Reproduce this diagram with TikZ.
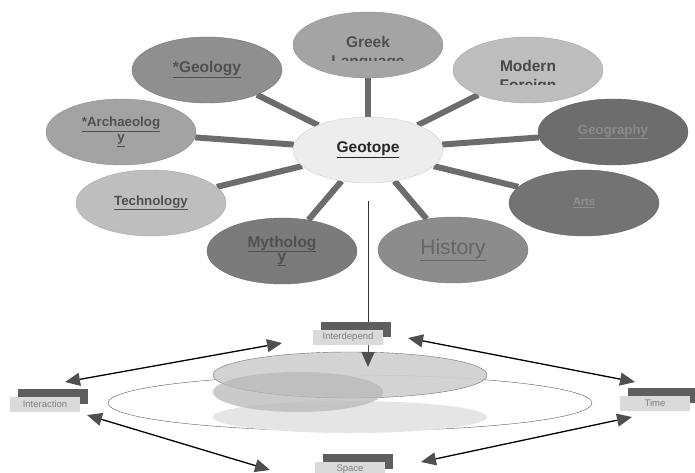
\documentclass[tikz,border=0pt]{standalone}
\usepackage{fontspec}
\setmainfont{Liberation Sans}
\usetikzlibrary{shapes.geometric,arrows.meta,shadows,backgrounds}

\definecolor{spokegray}{HTML}{6C6C6C}
\definecolor{cGeotope}{HTML}{EDEDED}
\definecolor{cGreek}{HTML}{A4A4A4}
\definecolor{cModern}{HTML}{BDBDBD}
\definecolor{cGeography}{HTML}{6D6D6D}
\definecolor{cArts}{HTML}{737373}
\definecolor{cHistory}{HTML}{8C8C8C}
\definecolor{cMythology}{HTML}{7B7B7B}
\definecolor{cTechnology}{HTML}{BEBEBE}
\definecolor{cArchaeology}{HTML}{A3A3A3}
\definecolor{cGeology}{HTML}{8F8F8F}
\definecolor{txtgray}{HTML}{505050}
\definecolor{tagbar}{HTML}{5E5E5E}
\definecolor{tagfill}{HTML}{DADADA}
\definecolor{arrowgray}{HTML}{505050}

\begin{document}
\begin{tikzpicture}[x=1pt, y=-1pt,
  bubble/.style={ellipse, minimum width=150pt, minimum height=66pt, inner sep=0pt,
    draw=#1!88!black, fill=#1, align=center, text=txtgray},
  big/.style={font=\bfseries\fontsize{15.5}{15}\selectfont},
  mid/.style={font=\bfseries\fontsize{13.3}{15}\selectfont},
  spoke/.style={line width=6pt, draw=spokegray},
  tag/.style={rectangle, minimum width=70pt, minimum height=15pt, inner sep=0pt,
    fill=tagfill, text=gray, font=\fontsize{9.5}{10}\selectfont,
    general shadow={fill=tagbar, shadow xshift=8pt, shadow yshift=8pt}},
  link/.style={{Triangle[length=15pt,width=13pt,color=arrowgray]}-{Triangle[length=15pt,width=13pt,color=arrowgray]},
    line width=1.3pt}]
  \useasboundingbox (0,0) rectangle (695,473);

  \node[bubble=cGeotope, big, text=black!85] (geotope) at (368,150) {\underline{Geotope}};
  \node[bubble=cGreek] (greek) at (368,45) {};
  \node[bubble=cModern] (modern) at (528,70) {};
  \node[bubble=cGeography, mid, text=cGeography!80!white] (geography) at (613,132) {\underline{Geography}};
  \node[bubble=cArts, font=\bfseries\fontsize{11}{12}\selectfont, text=cArts!80!white] (arts) at (584,203) {\underline{Arts}};
  \node[bubble=cHistory, font=\fontsize{21}{22}\selectfont, text=black!60] (history) at (453,250) {\underline{History}};
  \node[bubble=cMythology, big] (mythology) at (282,251) {\underline{Mytholog}\\[-1pt]\underline{y}};
  \node[bubble=cTechnology, mid] (technology) at (151,203) {\underline{Technology}};
  \node[bubble=cArchaeology, mid] (archaeology) at (121,132) {\underline{*Archaeolog}\\\underline{y}};
  \node[bubble=cGeology, big, draw=black!55] (geology) at (207,70) {\underline{*Geology}};

  \begin{scope}
    \clip (290,0) rectangle (450,61);
    \node[big, text=txtgray, align=center] (greektext) at (368,53) {Greek\\[4pt]Language};
  \end{scope}
  \begin{scope}
    \clip (450,30) rectangle (610,85);
    \node[big, text=black!72, align=center] (moderntext) at (528,77) {Modern\\[4pt]Foreign};
  \end{scope}

  \begin{scope}[on background layer]
    \fill[white] (0,0) rectangle (695,473);
    \foreach \b in {greek,modern,geography,arts,history,mythology,technology,archaeology,geology}
      \draw[spoke] (geotope) -- (\b);
  \end{scope}

  \draw[black!65, fill=white] (350,403) ellipse [x radius=242pt, y radius=28pt];
  \fill[gray!20] (350,417) ellipse [x radius=137pt, y radius=16pt];
  \filldraw[gray!38, draw=black!60, opacity=.9] (350,375) ellipse [x radius=137pt, y radius=23pt];
  \fill[gray!55, opacity=.75] (298,392) ellipse [x radius=85pt, y radius=20pt];

  \node[tag] (interdep) at (348,337) {Interdepend};
  \node[tag] (interaction) at (45,404) {Interaction};
  \node[tag] (time) at (655,403) {Time};
  \node[tag] (space) at (350,469) {Space};

  \coordinate (drop) at (368,367);
  \coordinate (ia) at (65,382);
  \coordinate (ib) at (282,343);
  \coordinate (ic) at (87,415);
  \coordinate (id) at (270,470);
  \coordinate (ta) at (408,338);
  \coordinate (tb) at (635,382);
  \coordinate (tc) at (632,417);
  \coordinate (td) at (421,462);

  \draw[black!80, line width=.9pt, shorten <=18pt, shorten >=7pt] (geotope.south) -- (interdep.north -| geotope.south);
  \draw[arrowgray, line width=1pt, -{Triangle[length=15pt,width=13pt]}] (interdep.south -| drop) -- (drop);
  \draw[link] (ia) -- (ib);
  \draw[link] (ic) -- (id);
  \draw[link] (ta) -- (tb);
  \draw[link] (tc) -- (td);
\end{tikzpicture}
\end{document}
